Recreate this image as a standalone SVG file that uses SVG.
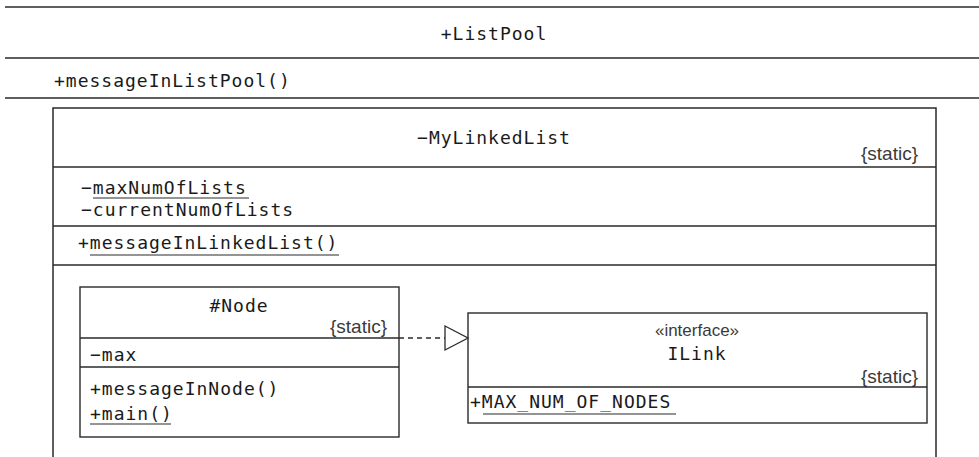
<svg xmlns="http://www.w3.org/2000/svg" width="979" height="457" viewBox="0 0 979 457">
<defs>
<style>
.ln{stroke:#2a2a2a;stroke-width:1.5;fill:none}
.bx{stroke:#2a2a2a;stroke-width:1.4;fill:#fff}
.mono{font-family:"DejaVu Sans Mono","Liberation Mono",monospace;font-size:18px;letter-spacing:1px;fill:#1a1a1a}
.sans{font-family:"Liberation Sans","Noto Sans",sans-serif;font-size:19px;fill:#3a3a3a}
.mid{text-anchor:middle}
.end{text-anchor:end}
.ul{stroke:#2a2a2a;stroke-width:1.2}
.dash{stroke:#2a2a2a;stroke-width:1.3;stroke-dasharray:5 4;fill:none}
</style>
</defs>
<rect width="979" height="457" fill="#fff"/>
<g id="ListPool">
<line class="ln" x1="5" y1="7" x2="979" y2="7"/>
<text class="mono mid" x="494" y="40">+ListPool</text>
<line class="ln" x1="5" y1="58" x2="979" y2="58"/>
<text class="mono" x="54" y="87">+messageInListPool()</text>
<line class="ln" x1="5" y1="98" x2="979" y2="98"/>
</g>
<g id="MyLinkedList">
<path class="ln" d="M53,457 V108 H936 V457"/>
<text class="mono mid" x="494" y="144">−MyLinkedList</text>
<text class="sans end" x="918" y="160">{static}</text>
<line class="ln" x1="53" y1="167" x2="936" y2="167"/>
<text class="mono" x="81" y="194">−maxNumOfLists</text>
<line class="ul" x1="93" y1="198" x2="249" y2="198"/>
<text class="mono" x="81" y="216">−currentNumOfLists</text>
<line class="ln" x1="53" y1="226" x2="936" y2="226"/>
<text class="mono" x="78" y="249">+messageInLinkedList()</text>
<line class="ul" x1="90" y1="255" x2="339" y2="255"/>
<line class="ln" x1="53" y1="265" x2="936" y2="265"/>
</g>
<g id="Node">
<rect class="bx" x="80" y="287" width="319" height="150"/>
<text class="mono mid" x="239" y="312">#Node</text>
<text class="sans end" x="387" y="333">{static}</text>
<line class="ln" x1="80" y1="338" x2="399" y2="338"/>
<text class="mono" x="90" y="361">−max</text>
<line class="ln" x1="80" y1="367" x2="399" y2="367"/>
<text class="mono" x="90" y="395">+messageInNode()</text>
<text class="mono" x="90" y="420">+main()</text>
<line class="ul" x1="90" y1="424" x2="171" y2="424"/>
</g>
<g id="ILink">
<rect class="bx" x="468" y="313" width="459" height="110"/>
<text class="sans mid" x="697" y="336" style="font-size:17px">«interface»</text>
<text class="mono mid" x="697" y="360">ILink</text>
<text class="sans end" x="918" y="383">{static}</text>
<line class="ln" x1="468" y1="387" x2="927" y2="387"/>
<text class="mono" x="470" y="408">+MAX_NUM_OF_NODES</text>
<line class="ul" x1="483" y1="414" x2="676" y2="414"/>
</g>
<g id="connectors">
<line class="dash" x1="399" y1="338" x2="445" y2="338"/>
<polygon points="445,326 468,338 445,350" fill="#fff" stroke="#2a2a2a" stroke-width="1.3"/>
</g>
</svg>
